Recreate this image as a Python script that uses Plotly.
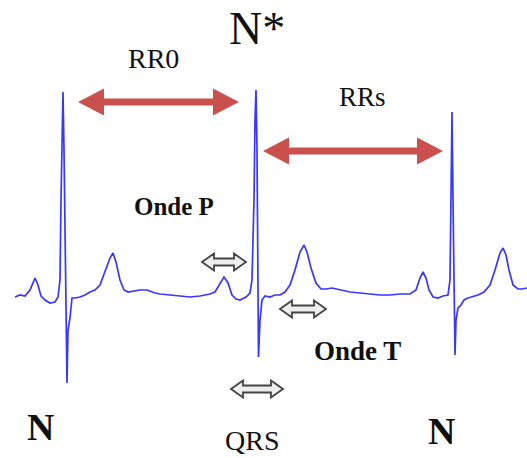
import plotly.graph_objects as go

# ECG trace (time in px units, amplitude in px units, downward positive)
ecg_t = [15, 20, 25, 30, 35, 38, 41, 45, 50, 55, 58, 60, 61, 62, 63, 64, 65, 66, 67, 68, 70, 72,
         75, 80, 85, 90, 95, 100, 105, 110, 113, 116, 120, 124, 128, 135, 140, 147, 155, 160, 170,
         180, 190, 200, 210, 215, 219, 224, 228, 232, 236, 240, 246, 250, 252, 254, 255, 256, 257,
         258, 258.5, 260, 262, 265,
         270, 275, 280, 285, 290, 295, 300, 304, 307, 311, 316, 321, 326, 332, 340, 350, 360, 370,
         380, 390, 400, 410, 416, 420, 423, 426, 429, 433, 438, 443, 448, 450, 451, 452, 453, 454,
         455, 456, 458, 461, 464, 468, 472, 478, 484, 490, 495, 500, 503, 506, 509, 513, 518, 522, 527]
ecg_v = [297, 295, 296, 290, 278, 285, 296, 300, 303, 302, 297, 280, 200, 130, 92, 150, 250, 320, 383, 330, 318, 298,
         298, 297, 295, 292, 290, 285, 272, 258, 253, 262, 280, 290, 292, 291, 290, 290, 293, 294, 295,
         296, 297, 296, 294, 292, 285, 277, 283, 295, 299, 300, 297, 293, 280, 200, 120, 90, 150,
         250, 357, 320, 300, 296,
         297, 295, 295, 292, 285, 270, 252, 245, 252, 268, 283, 289, 289, 288, 290, 292, 293, 294,
         295, 295, 294, 294, 290, 278, 272, 278, 290, 297, 298, 296, 295, 280, 200, 112, 200, 300,
         355, 320, 308, 305, 300, 298, 297, 295, 292, 285, 270, 253, 248, 255, 270, 285, 289, 289, 288]

# Interval arrows (start, end, level)
rr0 = (78, 239, 102)
rrs = (263, 443, 151)
# Small hollow arrows (center t, center level, length)
small_arrows = [(224, 262, 44), (303, 309, 46), (257, 389, 52)]

labels = ["N*", "RR0", "RRs", "Onde P", "Onde T", "N", "N", "QRS"]
label_t = [257, 153, 362, 174, 357, 40, 441, 252]
label_v = [28, 58, 97, 206, 351, 427, 431, 440]
label_size = [46, 28, 27, 25, 27, 38, 38, 28]
label_bold = [False, False, False, True, True, True, True, False]

SERIF = "Times New Roman"

fig = go.Figure()
fig.add_trace(go.Scatter(x=ecg_t, y=ecg_v, mode="lines",
                         line=dict(color="rgb(55,55,255)", width=1.7),
                         hoverinfo="skip", showlegend=False))


def double_arrow(x0, x1, y, head_len, head_h, shaft):
    pts = [(x0, y), (x0 + head_len, y - head_h / 2), (x0 + head_len, y - shaft / 2),
           (x1 - head_len, y - shaft / 2), (x1 - head_len, y - head_h / 2), (x1, y),
           (x1 - head_len, y + head_h / 2), (x1 - head_len, y + shaft / 2),
           (x0 + head_len, y + shaft / 2), (x0 + head_len, y + head_h / 2)]
    return "M " + " L ".join(f"{a},{b}" for a, b in pts) + " Z"


for (a, b, y) in [rr0, rrs]:
    fig.add_shape(type="path", path=double_arrow(a, b, y, 26, 27, 7),
                  xref="x", yref="y", fillcolor="#c9504c", line=dict(width=0))

for (c, y, L) in small_arrows:
    fig.add_shape(type="path", path=double_arrow(c - L / 2, c + L / 2, y, 12, 17, 7),
                  xref="x", yref="y", fillcolor="#eeeeee",
                  line=dict(color="#444444", width=1.8))

for txt, t, v, s, b in zip(labels, label_t, label_v, label_size, label_bold):
    fig.add_annotation(x=t, y=v, xref="x", yref="y", showarrow=False,
                       text=f"<b>{txt}</b>" if b else txt,
                       font=dict(family=SERIF, size=s, color="#111111"))

fig.update_layout(width=527, height=458, margin=dict(l=0, r=0, t=0, b=0),
                  paper_bgcolor="white", plot_bgcolor="white",
                  font=dict(family=SERIF),
                  xaxis=dict(range=[0, 527], visible=False, fixedrange=True),
                  yaxis=dict(range=[458, 0], visible=False, fixedrange=True))
fig.write_html("out.html", config={"displayModeBar": False},
               post_script="document.body.style.margin='0';document.body.style.overflow='hidden';")
